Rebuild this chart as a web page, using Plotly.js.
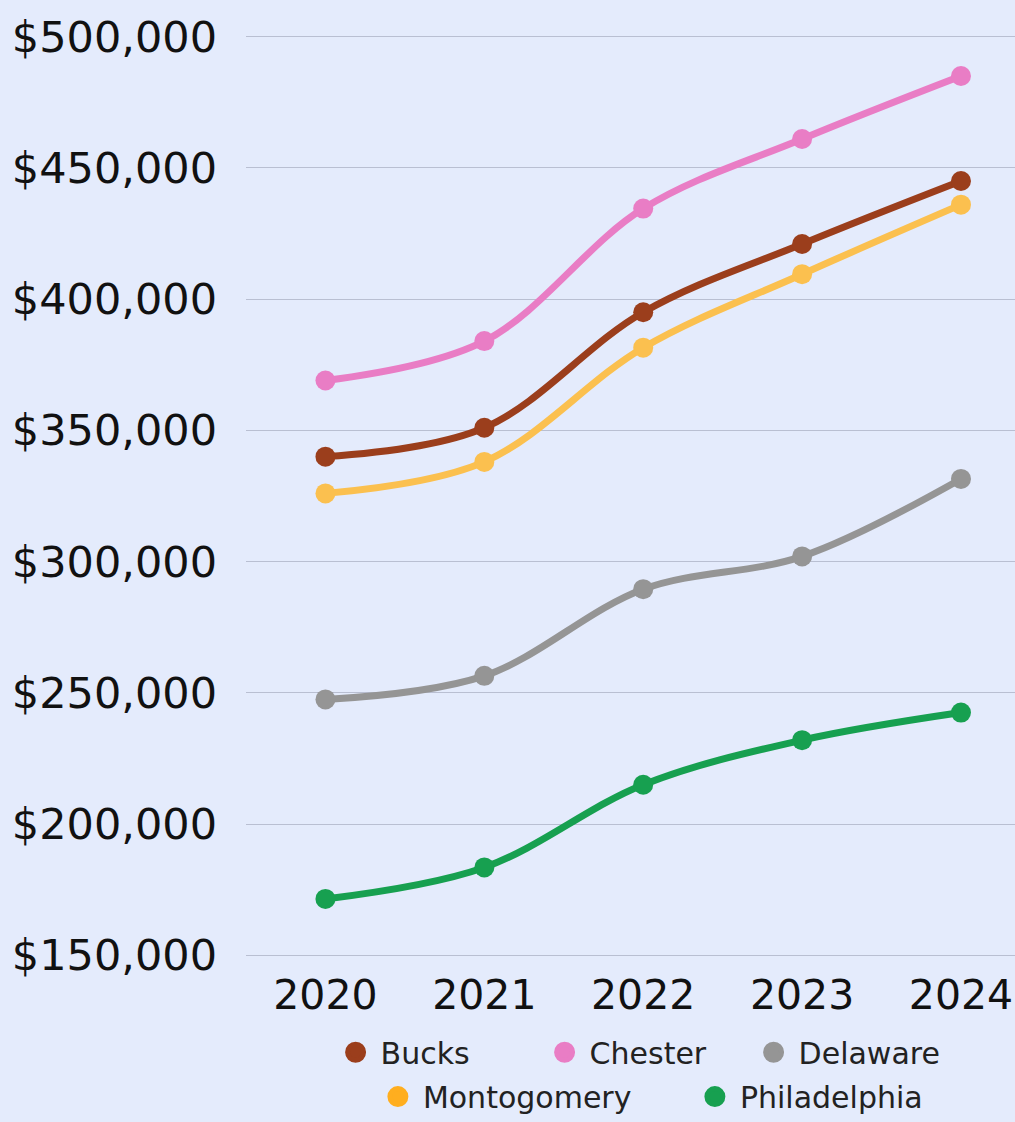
<!DOCTYPE html>
<html>
<head>
<meta charset="utf-8">
<script src="https://cdn.plot.ly/plotly-3.0.1.min.js"></script>
<style>
  html, body { margin: 0; padding: 0; background: #E4EBFC; }
  #chart { width: 1015px; height: 1122px; }
</style>
</head>
<body>
<div id="chart"></div>
<script>
const years = [2020, 2021, 2022, 2023, 2024];

const counties = ['Bucks', 'Chester', 'Delaware', 'Montogomery', 'Philadelphia'];
const bucks = [340000, 351000, 395000, 421000, 445000];
const chester = [369000, 384000, 434500, 461000, 485000];
const delaware = [247500, 256500, 289500, 302000, 331500];
const montgomery = [326000, 338000, 381500, 409500, 436000];
const philadelphia = [171500, 183500, 215000, 232000, 242500];

const lineColors = ['#9B3E1C', '#E97DC5', '#959595', '#FBC04F', '#17A050'];
const legendColors = ['#9B3E1C', '#E97DC5', '#959595', '#FFAE1F', '#17A050'];
const legendRow = ['legend', 'legend', 'legend', 'legend2', 'legend2'];

const tickVals = [150000, 200000, 250000, 300000, 350000, 400000, 450000, 500000];
const tickText = ['$150,000', '$200,000', '$250,000', '$300,000', '$350,000', '$400,000', '$450,000', '$500,000'];

const series = [bucks, chester, delaware, montgomery, philadelphia];
const font = 'DejaVu Sans, sans-serif';

// the lines themselves, no legend entries
const lineTraces = series.map((vals, i) => ({
    x: years,
    y: vals,
    type: 'scatter',
    mode: 'lines+markers',
    name: counties[i],
    showlegend: false,
    line: { color: lineColors[i], width: 7, shape: 'spline', smoothing: 1 },
    marker: { color: lineColors[i], size: 20 },
    cliponaxis: false
}));

// legend entries: circles only, split over two rows
const legendTraces = counties.map((name, i) => ({
    x: [null],
    y: [null],
    type: 'scatter',
    mode: 'markers',
    name: name,
    legend: legendRow[i],
    marker: { color: legendColors[i], size: 16, line: { color: legendColors[i], width: 5 } }
}));

const legendBase = {
    orientation: 'h',
    xanchor: 'left',
    yanchor: 'middle',
    font: { family: font, size: 30, color: '#222222' },
    bgcolor: 'rgba(0,0,0,0)',
    itemwidth: 40,
    entrywidthmode: 'pixels',
    tracegroupgap: 0
};

const layout = {
    width: 1015,
    height: 1122,
    paper_bgcolor: '#E4EBFC',
    plot_bgcolor: '#E4EBFC',
    margin: { l: 246, r: 0, t: 34, b: 164, autoexpand: false },
    font: { family: font, color: '#111111' },
    xaxis: {
        range: [2019.5, 2024.34],
        tickvals: years,
        ticktext: years.map(String),
        showgrid: false,
        zeroline: false,
        showline: false,
        ticks: '',
        ticklabelstandoff: 9,
        tickfont: { family: font, size: 41, color: '#111111' }
    },
    yaxis: {
        range: [149000, 501000],
        tickvals: tickVals,
        ticktext: tickText,
        showgrid: true,
        gridcolor: '#B9BFD2',
        gridwidth: 1,
        zeroline: false,
        showline: false,
        ticks: '',
        ticklabelstandoff: 28,
        tickfont: { family: font, size: 43, color: '#111111' }
    },
    showlegend: true,
    legend: Object.assign({}, legendBase, { x: 0.11, y: -0.102, entrywidth: 154 }),
    legend2: Object.assign({}, legendBase, { x: 0.165, y: -0.150, entrywidth: 262 })
};

Plotly.newPlot('chart', [...lineTraces, ...legendTraces], layout, { displayModeBar: false, staticPlot: true });
</script>
</body>
</html>
